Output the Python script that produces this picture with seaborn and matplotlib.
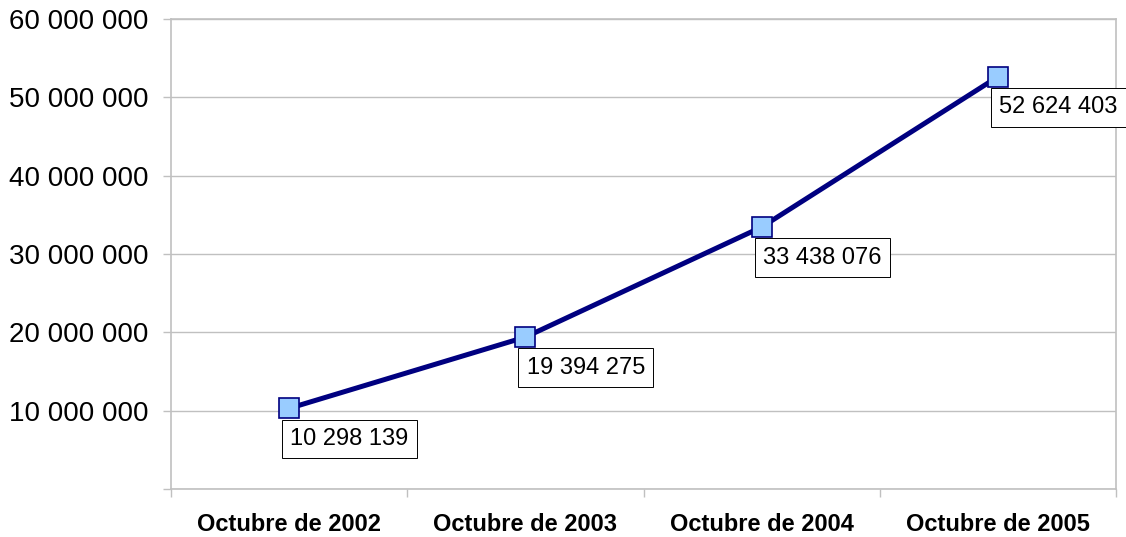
import seaborn as sns
import pandas as pd
import matplotlib.pyplot as plt
from matplotlib.ticker import FuncFormatter, FixedLocator, NullFormatter

# Data
periods = ["Octubre de 2002", "Octubre de 2003", "Octubre de 2004", "Octubre de 2005"]
values = [10298139, 19394275, 33438076, 52624403]
y_ticks = [0, 10000000, 20000000, 30000000, 40000000, 50000000, 60000000]

df = pd.DataFrame({"periodo": periods, "valor": values})
df["pos"] = range(len(df))


def fmt_space(v):
  return f"{int(v):,}".replace(",", " ")


sns.set_style("white")
plt.rcParams["font.family"] = ["Liberation Sans", "DejaVu Sans"]

fig = plt.figure(figsize=(11.26, 5.37), dpi=100)
ax = fig.add_axes([0.1519, 0.0894, 0.9911 - 0.1519, 0.9646 - 0.0894])

grid_color = "#c0c0c0"
ax.set_ylim(0, 60000000)
ax.set_xlim(-0.5, len(periods) - 0.5)
ax.yaxis.set_major_locator(FixedLocator(y_ticks))
ax.yaxis.grid(True, color=grid_color, linewidth=1.0)
ax.set_axisbelow(True)

sns.lineplot(
  data=df, x="pos", y="valor", ax=ax,
  color="#000080", linewidth=3.6,
  marker="s", markersize=14, markerfacecolor="#99ccff",
  markeredgecolor="#000080", markeredgewidth=1.2,
)

for _, row in df.iterrows():
  ax.annotate(
    fmt_space(row["valor"]), (row["pos"], row["valor"]),
    xytext=(43.5, -22), textcoords="offset points",
    ha="center", va="center", fontsize=17, color="black",
    bbox=dict(boxstyle="square,pad=0.35", fc="white", ec="black", lw=0.7),
    annotation_clip=False, zorder=5,
  )

ax.yaxis.set_major_formatter(
  FuncFormatter(lambda v, p: "" if v == 0 else fmt_space(v))
)
ax.tick_params(axis="y", which="major", length=6, width=1, color=grid_color,
               labelsize=20, labelcolor="black", pad=10, left=True)

ax.set_xticks(df["pos"])
ax.set_xticklabels(periods, fontsize=17, fontweight="bold")
ax.set_xticks([i - 0.5 for i in range(len(periods) + 1)], minor=True)
ax.xaxis.set_minor_formatter(NullFormatter())
ax.tick_params(axis="x", which="major", length=0, pad=17, labelcolor="black")
ax.tick_params(axis="x", which="minor", length=6, width=1, color=grid_color,
               bottom=True)

for s in ax.spines.values():
  s.set_color(grid_color)
  s.set_linewidth(1.2)

ax.set_xlabel("")
ax.set_ylabel("")

fig.savefig("out.png", dpi=100)
